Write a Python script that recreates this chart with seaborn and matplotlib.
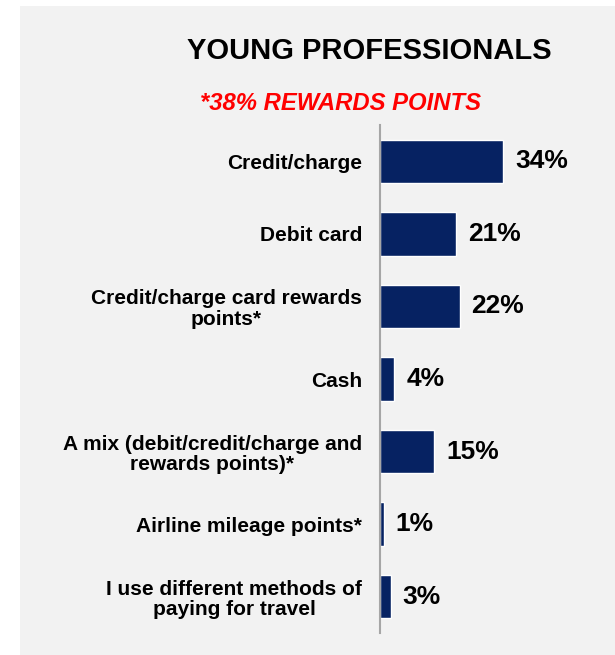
import matplotlib
matplotlib.use("Agg")
import matplotlib.pyplot as plt
import seaborn as sns
import pandas as pd
from matplotlib.patches import Rectangle

# Payment methods and shares (%)
categories = [
    "Credit/charge",
    "Debit card",
    "Credit/charge card rewards\npoints*",
    "Cash",
    "A mix (debit/credit/charge and\nrewards points)*",
    "Airline mileage points*",
    "I use different methods of\npaying for travel",
]
values = [34, 21, 22, 4, 15, 1, 3]
title_text = "YOUNG PROFESSIONALS"
subtitle_text = "*38% REWARDS POINTS"

sns.set_theme(style="white")
plt.rcParams["font.family"] = ["Liberation Sans", "DejaVu Sans"]

W, H = 615, 655
fig = plt.figure(figsize=(W / 100, H / 100), dpi=100, facecolor="white")

# Light grey panel behind the chart
fig.patches.append(Rectangle((20 / W, 0), 1 - 20 / W, (H - 6) / H,
                             transform=fig.transFigure, facecolor="#f2f2f2",
                             edgecolor="none", zorder=-10))

ax_left = 380 / W
ax_bottom = (H - 633) / H
ax_top = (H - 125) / H
ax = fig.add_axes([ax_left, ax_bottom, 1 - ax_left, ax_top - ax_bottom])
ax.set_facecolor("none")
ax.set_zorder(1)

df = pd.DataFrame({"method": categories, "share": values})
sns.barplot(data=df, y="method", x="share", orient="h", color="#062262",
            width=0.6, saturation=1, ax=ax)

ax.set_xlim(0, (W - 380) / 3.62)
ax.set_ylim(6.5, -0.5)
ax.set_xlabel("")
ax.set_ylabel("")
ax.set_xticks([])
for s in ["top", "right", "bottom"]:
    ax.spines[s].set_visible(False)
ax.spines["left"].set_color("#a6a6a6")
ax.spines["left"].set_linewidth(1.5)

ax.tick_params(axis="y", length=0, pad=13)
for lbl in ax.get_yticklabels():
    lbl.set_fontsize(15)
    lbl.set_fontweight("bold")
    lbl.set_color("black")
    lbl.set_multialignment("center")
    lbl.set_linespacing(1.1)

# Value labels at the end of each bar
for container in ax.containers:
    ax.bar_label(container, labels=[f"{v}%" for v in values], padding=8.5,
                 fontsize=19, fontweight="bold", color="black")

fig.text(369 / W, 1 - 51 / H, title_text, ha="center", va="center",
         fontsize=21, fontweight="bold", color="black")
fig.text(341 / W, 1 - 103 / H, subtitle_text, ha="center", va="center",
         fontsize=17.2, fontweight="bold", fontstyle="italic", color="#ff0000")

fig.savefig("out.png", dpi=100, facecolor="white")
